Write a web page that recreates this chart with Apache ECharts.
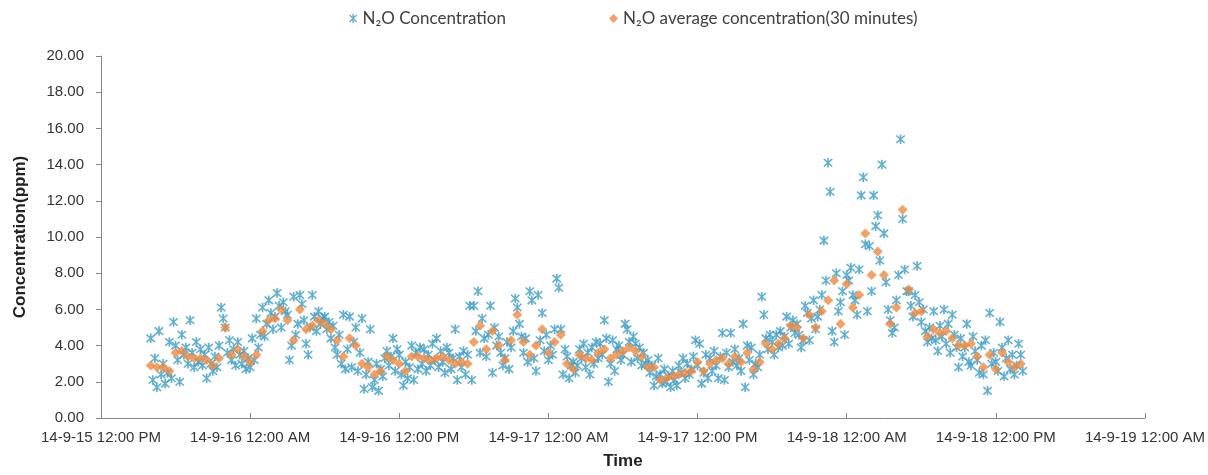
<!DOCTYPE html>
<html>
<head>
<meta charset="utf-8">
<title>N2O concentration</title>
<script src="https://cdn.jsdelivr.net/npm/echarts@6/dist/echarts.min.js"></script>
<style>
  html, body { margin: 0; padding: 0; background: #fff; }
  #chart { width: 1208px; height: 475px; }
</style>
</head>
<body>
<div id="chart"></div>
<script>
// x values are hours after 14-9-15 12:00 PM
var tickLabels = ["14-9-15 12:00 PM", "14-9-16 12:00 AM", "14-9-16 12:00 PM", "14-9-17 12:00 AM",
  "14-9-17 12:00 PM", "14-9-18 12:00 AM", "14-9-18 12:00 PM", "14-9-19 12:00 AM"];

// 10 minute readings, one row per hour
var concStart = 4;
var concStep = 1 / 6;
var concValues = [
  4.4, 2.1, 3.3, 1.7, 4.8, 2.4,
  3.0, 1.9, 2.5, 4.2, 2.2, 5.3,
  4.0, 3.2, 2.0, 4.6, 3.5, 3.9,
  3.0, 5.4, 3.6, 2.8, 4.2, 3.1,
  3.8, 2.9, 3.5, 2.2, 3.9, 3.0,
  2.6, 3.4, 2.8, 4.0, 6.1, 5.5,
  5.0, 3.6, 4.3, 3.2, 3.8, 2.9,
  4.2, 3.5, 3.0, 3.7, 2.7, 3.3,
  2.8, 4.4, 3.2, 5.5, 3.9, 4.6,
  6.1, 4.5, 5.2, 6.5, 5.8, 4.9,
  5.6, 6.9, 6.2, 5.0, 6.4, 5.9,
  5.7, 3.2, 4.0, 6.7, 4.6, 5.2,
  6.8, 6.3, 5.4, 4.1, 3.5, 5.0,
  6.8, 5.6, 4.8, 5.9, 5.2, 5.5,
  5.6, 4.9, 5.3, 4.4, 5.1, 3.9,
  3.5, 4.6, 3.0, 5.7, 2.7, 3.8,
  5.6, 2.8, 4.2, 5.0, 2.6, 3.6,
  5.5, 1.6, 2.4, 3.1, 4.9, 1.7,
  2.1, 3.0, 1.5, 2.7, 2.3, 3.3,
  3.7, 2.9, 3.4, 4.4, 2.6, 3.8,
  3.5, 2.4, 1.8, 3.1, 2.2, 2.8,
  4.0, 2.1, 3.6, 2.7, 3.9, 3.0,
  3.8, 2.6, 3.5, 2.9, 4.1, 3.2,
  4.4, 2.8, 3.7, 3.1, 2.5, 3.9,
  3.6, 2.7, 3.3, 4.9, 2.1, 3.4,
  2.8, 3.7, 2.4, 3.5, 6.2, 2.1,
  6.2, 4.8, 7.0, 3.6, 5.5, 4.4,
  3.4, 4.6, 6.2, 2.5, 5.0, 4.0,
  4.5, 3.6, 2.9, 3.3, 4.2, 2.7,
  3.9, 4.8, 6.6, 6.1, 5.2, 4.5,
  3.6, 4.4, 3.1, 7.0, 6.5, 3.3,
  2.6, 6.8, 4.3, 5.8, 3.7, 4.6,
  3.2, 4.0, 3.5, 4.9, 7.7, 7.2,
  4.9, 2.4, 3.8, 3.4, 2.2, 2.9,
  3.1, 2.5, 2.9, 3.8, 3.3, 4.1,
  2.8, 3.6, 2.4, 3.9, 3.0, 4.2,
  3.3, 4.1, 3.5, 5.4, 4.4, 2.0,
  3.0, 4.3, 2.6, 3.8, 4.0, 3.2,
  3.5, 5.2, 4.9, 4.2, 3.1, 4.5,
  4.1, 3.3, 3.9, 2.9, 3.6, 3.0,
  3.2, 2.5, 2.9, 1.8, 2.3, 3.3,
  2.4, 1.9, 2.7, 2.0, 2.3, 1.7,
  2.6, 2.1, 1.8, 2.9, 2.5, 3.3,
  2.2, 3.0, 2.4, 2.7, 3.4, 4.3,
  2.9, 4.1, 1.9, 2.5, 3.5, 2.2,
  3.3, 2.6, 3.7, 2.9, 2.2, 3.4,
  4.7, 2.1, 3.6, 2.8, 4.7, 3.1,
  3.8, 2.9, 3.3, 2.6, 5.2, 1.7,
  4.0, 3.2, 3.9, 2.4, 3.0, 2.8,
  3.5, 6.7, 5.7, 4.4, 3.8, 4.6,
  4.2, 3.5, 4.6, 3.9, 4.8, 4.0,
  4.5, 5.6, 4.1, 5.0, 5.4, 4.7,
  5.2, 4.6, 3.9, 4.3, 6.2, 5.8,
  4.3, 5.5, 6.5, 4.9, 5.6, 6.0,
  6.8, 9.8, 7.6, 14.1, 12.5, 4.8,
  4.2, 8.0, 5.9, 6.4, 7.0, 4.6,
  7.9, 7.6, 8.3, 6.8, 6.5, 5.7,
  8.2, 12.3, 13.3, 9.6, 5.9, 9.5,
  7.0, 12.3, 10.6, 11.2, 8.7, 14.0,
  10.2, 7.5, 6.0, 5.4, 4.7, 5.0,
  6.5, 7.9, 15.4, 11.0, 8.2, 7.0,
  7.0, 6.2, 5.6, 6.8, 8.4, 6.4,
  5.3, 6.0, 4.8, 4.2, 5.0, 4.4,
  5.9, 4.3, 3.7, 5.1, 4.5, 6.0,
  4.1, 5.2, 3.6, 5.7, 4.6, 3.9,
  2.8, 4.4, 3.4, 3.9, 5.2, 3.1,
  2.9, 4.5, 3.7, 3.2, 2.5, 4.0,
  2.4, 4.3, 1.5, 5.8, 3.0, 3.6,
  3.1, 2.6, 5.3, 3.9, 2.3, 3.3,
  4.3, 2.7, 3.5, 2.4, 2.9, 4.1,
  3.5, 2.6
];

// 30 minute averages
var avgStart = 4;
var avgStep = 0.5;
var avgValues = [
  2.9, 2.8, 2.8, 2.6, 3.6, 3.7, 3.4, 3.3, 3.3, 3.2, 2.9, 3.3, 5.0, 3.5, 3.8, 3.4,
  3.1, 3.5, 4.8, 5.4, 5.5, 6.0, 5.4, 4.3, 6.0, 4.9, 5.1, 5.4, 5.2, 4.9, 4.3, 3.4,
  4.4, 4.0, 3.0, 2.8, 2.4, 2.6, 3.4, 3.2, 3.0, 2.6, 3.4, 3.4, 3.3, 3.2, 3.3, 3.4,
  3.2, 3.0, 3.1, 3.0, 4.2, 5.1, 3.8, 4.8, 4.0, 3.2, 4.3, 5.7, 4.2, 3.5, 4.0, 4.9,
  3.6, 4.2, 4.6, 3.0, 2.7, 3.5, 3.3, 3.2, 3.6, 3.8, 3.3, 3.5, 3.7, 3.9, 3.7, 3.4,
  2.8, 2.8, 2.1, 2.2, 2.3, 2.4, 2.5, 2.6, 3.1, 2.6, 3.0, 3.2, 3.3, 3.0, 3.4, 3.1,
  3.6, 2.7, 3.1, 4.1, 3.8, 4.1, 4.4, 5.1, 5.0, 4.4, 5.7, 5.0, 5.9, 6.5, 7.6, 5.2,
  7.4, 6.1, 6.8, 10.2, 7.9, 9.2, 7.9, 5.2, 6.1, 11.5, 7.1, 5.8, 5.9, 4.5, 4.9, 4.7,
  4.8, 4.4, 4.0, 4.0, 4.1, 3.4, 2.8, 3.5, 2.7, 3.6, 3.1, 2.8, 3.0
];

var concData = concValues.map(function (v, i) { return [concStart + i * concStep, v]; });
var avgData = avgValues.map(function (v, i) { return [avgStart + i * avgStep, v]; });

// asterisk marker (vertical bar + two diagonals)
var asterisk = 'path://M4.2,0L5.8,0L5.8,10L4.2,10Z' +
  'M1.6,0.5L9.5,8.4L8.4,9.5L0.5,1.6Z' +
  'M8.4,0.5L9.5,1.6L1.6,9.5L0.5,8.4Z';

var fontName = '"Liberation Sans", Arial, sans-serif';
var legendText = { fontSize: 17, color: '#404040', fontFamily: 'Lato, "Liberation Sans", sans-serif' };

var myChart = echarts.init(document.getElementById('chart'));
myChart.setOption({
  animation: false,
  textStyle: { fontFamily: fontName },
  grid: { left: 101, right: 62, top: 56, bottom: 54 },
  legend: [
    {
      left: 344, top: 5, itemWidth: 9, itemHeight: 9, textStyle: legendText,
      data: [{ name: 'N₂O Concentration', icon: asterisk }]
    },
    {
      left: 604, top: 5, itemWidth: 9, itemHeight: 9, textStyle: legendText,
      data: [{ name: 'N₂O average concentration(30 minutes)', icon: 'diamond' }]
    }
  ],
  xAxis: {
    type: 'value',
    min: 0,
    max: 84,
    interval: 12,
    name: 'Time',
    nameLocation: 'middle',
    nameGap: 35,
    nameTextStyle: { fontSize: 17, fontWeight: 'bold', color: '#222', fontFamily: fontName },
    axisLine: { lineStyle: { color: '#868686' } },
    axisTick: { inside: true, length: 5, lineStyle: { color: '#868686' } },
    splitLine: { show: false },
    axisLabel: {
      fontSize: 15,
      color: '#333',
      margin: 12,
      fontFamily: fontName,
      formatter: function (v) { return tickLabels[Math.round(v / 12)]; }
    }
  },
  yAxis: {
    type: 'value',
    min: 0,
    max: 20,
    interval: 2,
    name: 'Concentration(ppm)',
    nameLocation: 'middle',
    nameGap: 72,
    nameTextStyle: { fontSize: 17, fontWeight: 'bold', color: '#222', fontFamily: fontName },
    axisLine: { show: true, lineStyle: { color: '#868686' } },
    axisTick: { show: true, length: 5, lineStyle: { color: '#868686' } },
    splitLine: { show: false },
    axisLabel: {
      fontSize: 15,
      color: '#333',
      margin: 17,
      fontFamily: fontName,
      formatter: function (v) { return v.toFixed(2); }
    }
  },
  series: [
    {
      name: 'N₂O Concentration',
      type: 'scatter',
      symbol: asterisk,
      symbolSize: 9.5,
      itemStyle: { color: '#3A9CC6' },
      data: concData
    },
    {
      name: 'N₂O average concentration(30 minutes)',
      type: 'scatter',
      symbol: 'diamond',
      symbolSize: 10,
      itemStyle: { color: '#F08A3E' },
      data: avgData
    }
  ]
});
</script>
</body>
</html>
